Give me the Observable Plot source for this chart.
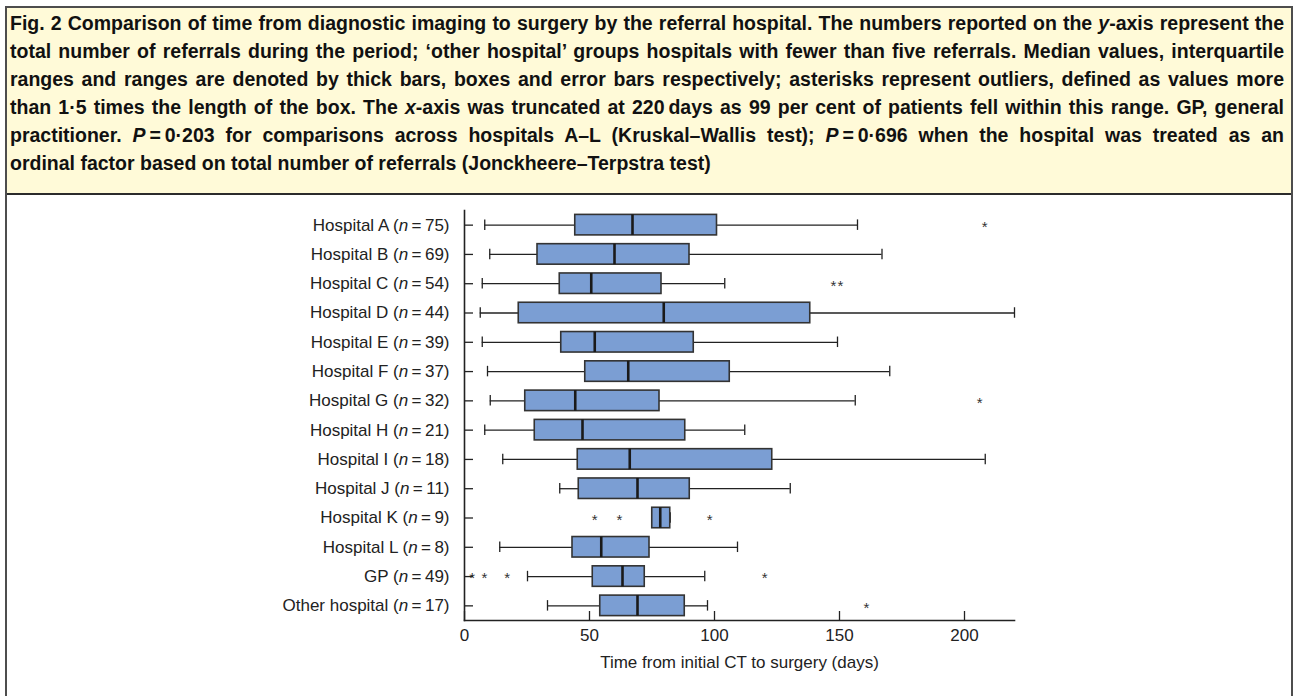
<!DOCTYPE html>
<html><head><meta charset="utf-8">
<script src="https://cdn.jsdelivr.net/npm/d3@7"></script>
<script src="https://cdn.jsdelivr.net/npm/@observablehq/plot@0.6"></script>
<style>
html,body{margin:0;padding:0;background:#fff;}
#frame{position:absolute;left:5px;top:6px;width:1288px;height:700px;border:2px solid #4d4d4d;border-bottom:none;box-sizing:border-box;}
#cap{background:#fffad8;border-bottom:2px solid #2b2b2b;height:187px;box-sizing:border-box;padding:1px 7px 0 3px;font:bold 19.5px "Liberation Sans",Arial,sans-serif;line-height:28px;color:#111;}
#cap div{text-align:justify;text-align-last:justify;white-space:nowrap;}
#cap div.last{text-align-last:left;}
#chart{position:absolute;left:0;top:187px;}
</style></head><body>
<div id="frame">
<div id="cap">
<div>Fig. 2 Comparison of time from diagnostic imaging to surgery by the referral hospital. The numbers reported on the <i>y</i>-axis represent the</div>
<div>total number of referrals during the period; ‘other hospital’ groups hospitals with fewer than five referrals. Median values, interquartile</div>
<div>ranges and ranges are denoted by thick bars, boxes and error bars respectively; asterisks represent outliers, defined as values more</div>
<div>than 1·5 times the length of the box. The <i>x</i>-axis was truncated at 220&#8201;days as 99 per cent of patients fell within this range. GP, general</div>
<div>practitioner. <i>P</i>&#8201;=&#8201;0·203 for comparisons across hospitals A–L (Kruskal–Wallis test); <i>P</i>&#8201;=&#8201;0·696 when the hospital was treated as an</div>
<div class="last">ordinal factor based on total number of referrals (Jonckheere–Terpstra test)</div>
</div>
<div id="chart"></div>
</div>
<script>
// ---- data (days) ----
const hospitals = ["Hospital A","Hospital B","Hospital C","Hospital D","Hospital E","Hospital F","Hospital G","Hospital H","Hospital I","Hospital J","Hospital K","Hospital L","GP","Other hospital"];
const counts    = [75, 69, 54, 44, 39, 37, 32, 21, 18, 11, 9, 8, 49, 17];
const lows      = [8.1, 10.1, 7.1, 6.3, 7.1, 9.2, 10.3, 8.1, 15.3, 38.1, 75.1, 14.1, 25.2, 33.2];
const q1s       = [44.3, 29.2, 38.1, 21.7, 38.7, 48.3, 24.3, 28.1, 45.3, 45.7, 75.1, 43.2, 51.3, 54.3];
const medians   = [67.2, 60.0, 50.7, 79.7, 52.1, 65.5, 44.3, 47.2, 66.1, 69.2, 78.3, 54.7, 63.2, 69.2];
const q3s       = [101.0, 90.0, 78.8, 138.3, 91.7, 106.1, 78.0, 88.3, 123.1, 90.1, 82.3, 74.0, 72.1, 88.1];
const highs     = [157.2, 167.0, 104.1, 220.0, 149.2, 170.1, 156.3, 112.1, 208.3, 130.3, 82.3, 109.2, 96.1, 97.2];
const outlierHospitals = ["Hospital A","Hospital C","Hospital C","Hospital G","Hospital K","Hospital K","Hospital K","GP","GP","GP","GP","Other hospital"];
const outlierValues    = [208.1, 147.6, 150.4, 206.1, 52.1, 62.0, 98.1, 3.1, 8.0, 17.1, 120.1, 160.8];
const xTicks = [0, 50, 100, 150, 200];
const xLabel = "Time from initial CT to surgery (days)";

const boxes = hospitals.map((h, i) => ({name: h, n: counts[i], lo: lows[i], q1: q1s[i], med: medians[i], q3: q3s[i], hi: highs[i]}));
const outliers = outlierHospitals.map((h, i) => ({name: h, v: outlierValues[i]}));
const labelOf = new Map(boxes.map(d => [d.name, `${d.name} (n\u2009=\u2009${d.n})`]));

const ink = "#222";
const chart = Plot.plot({
  width: 1284, height: 501,
  marginLeft: 457, marginRight: 277, marginTop: 15, marginBottom: 76,
  style: {fontFamily: "'Liberation Sans', Arial, sans-serif", fontSize: "17px", color: ink, background: "transparent"},
  x: {domain: [0, 220]},
  y: {domain: hospitals, paddingInner: 0.3, paddingOuter: 0.15, round: false},
  marks: [
    Plot.ruleY(boxes, {y: "name", x1: "lo", x2: "q1", stroke: ink, strokeWidth: 1.3}),
    Plot.ruleY(boxes, {y: "name", x1: "q3", x2: "hi", stroke: ink, strokeWidth: 1.3}),
    Plot.tickX(boxes, {y: "name", x: "lo", stroke: ink, strokeWidth: 1.3, insetTop: 5, insetBottom: 5}),
    Plot.tickX(boxes, {y: "name", x: "hi", stroke: ink, strokeWidth: 1.3, insetTop: 5, insetBottom: 5}),
    Plot.barX(boxes, {y: "name", x1: "q1", x2: "q3", fill: "#7b9ed3", stroke: "#333", strokeWidth: 1.6}),
    Plot.tickX(boxes, {y: "name", x: "med", stroke: "#1a1a1a", strokeWidth: 2.6}),
    Plot.text(outliers, {y: "name", x: "v", text: () => "*", fontSize: 15, fill: "#333", dy: 2}),
    Plot.axisY({tickSize: 9, dx: 9, tickFormat: () => "", stroke: ink, strokeWidth: 1.3, label: null}),
    Plot.axisY({tickSize: 0, tickPadding: 15, tickFormat: d => labelOf.get(d), fill: ink, label: null}),
    Plot.axisX({ticks: xTicks, tickSize: 9, dy: -9, tickFormat: () => "", stroke: ink, strokeWidth: 1.3, label: null}),
    Plot.axisX({ticks: xTicks, tickSize: 0, tickPadding: 8, fill: ink, label: xLabel, labelAnchor: "center", labelArrow: "none", labelOffset: 47}),
    Plot.frame({anchor: "left", stroke: ink, strokeWidth: 1.6}),
    Plot.frame({anchor: "bottom", stroke: ink, strokeWidth: 1.6})
  ]
});
document.getElementById("chart").appendChild(chart);

// italicise the "n" in the y tick labels
chart.querySelectorAll('g[aria-label="y-axis tick label"] text').forEach(t => {
  const s = t.textContent;
  const k = s.indexOf("(n");
  if (k < 0) return;
  t.textContent = "";
  const ns = "http://www.w3.org/2000/svg";
  const a = document.createElementNS(ns, "tspan"); a.textContent = s.slice(0, k + 1);
  const b = document.createElementNS(ns, "tspan"); b.textContent = "n"; b.setAttribute("font-style", "italic");
  const c = document.createElementNS(ns, "tspan"); c.textContent = s.slice(k + 2);
  t.append(a, b, c);
});
</script>
</body></html>
